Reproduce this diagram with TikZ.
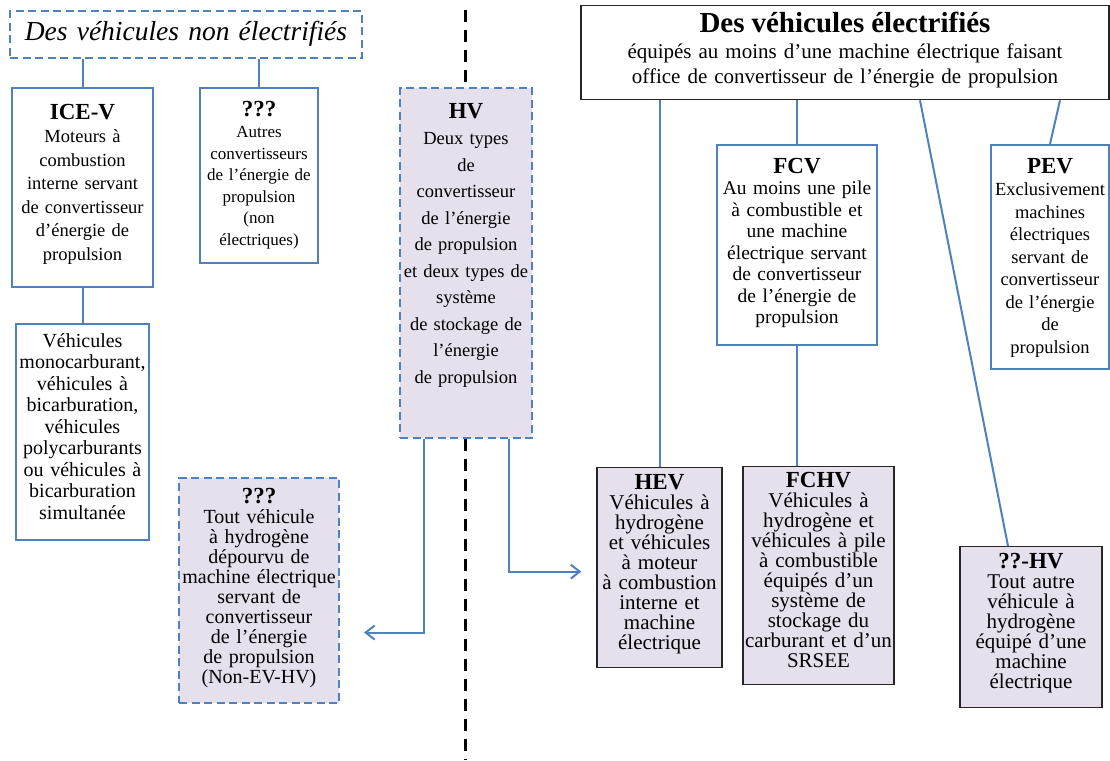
\documentclass[tikz,border=0pt]{standalone}
\usepackage{fontspec}
\setmainfont{Liberation Serif}
\usetikzlibrary{arrows.meta}

\definecolor{accblue}{HTML}{4F81BD}
\definecolor{lavender}{HTML}{E5E0EC}

\newcommand{\fs}[2]{\fontsize{#1}{#2}\selectfont}
\newcommand{\hd}[2][23]{{\fontsize{#1}{#1}\selectfont\bfseries #2}}

\begin{document}
\begin{tikzpicture}[ x=1pt, y=-1pt, >={Straight Barb[length=9pt,width=14pt]},
        box/.style={ draw=accblue, line width=2.1pt, align=center,
          anchor=north, inner xsep=2pt, inner ysep=4pt },
        dbox/.style={ box, dash pattern=on 8pt off 4.5pt },
        hbox/.style={ box, draw=black!85, line width=1.3pt },
        link/.style={ accblue, line width=2pt },
        projection/.style={ link, -> },
        separator/.style={ black, line width=3pt, dash pattern=on 12pt off 8pt } ]
  \useasboundingbox (0,0) rectangle (1110,760);

  % left side: non electrified
  \node[dbox, text width=348pt, text height=25pt, text depth=14pt,
        font=\fs{27.5}{30}\itshape] (nonel) at (186,10) {Des véhicules non électrifiés};
  \node[box, text width=137pt, text height=27pt, text depth=164pt,
        font=\fs{18.5}{23.5}] (icev) at (82.5,87)
        {\hd{ICE-V}\\Moteurs à\\combustion\\interne servant\\de convertisseur\\d’énergie de\\propulsion};
  \node[box, text width=114pt, text height=24pt, text depth=143pt,
        font=\fs{17}{21.5}] (other) at (259,87)
        {\hd{???}\\Autres\\convertisseurs\\de l’énergie de\\propulsion\\(non\\électriques)};
  \node[box, text width=129pt, text height=19pt, text depth=189pt,
        font=\fs{20}{21.5}] (mono) at (82.5,323)
        {Véhicules\\monocarburant,\\véhicules à\\bicarburation,\\véhicules\\polycarburants\\ou véhicules à\\bicarburation\\simultanée};
  \node[dbox, fill=lavender, text width=156pt, text height=21pt, text depth=196pt,
        font=\fs{20}{20}] (nonev) at (259,477)
        {\hd{???}\\Tout véhicule\\à hydrogène\\dépourvu de\\machine électrique\\servant de\\convertisseur\\de l’énergie\\de propulsion\\(Non-EV-HV)};

  % hydrogen vehicles
  \node[dbox, fill=lavender, text width=128pt, text height=26pt, text depth=316pt,
        font=\fs{18.5}{26.5}] (hv) at (466,87)
        {\hd{HV}\\Deux types\\de\\convertisseur\\de l’énergie\\de propulsion\\et deux types de\\système\\de stockage de\\l’énergie\\de propulsion};

  % right side: electrified
  \node[hbox, fill=white, text width=524pt, text height=23pt, text depth=63pt,
        font=\fs{21}{25.5}] (el) at (845,5)
        {\hd[29]{Des véhicules électrifiés}\\équipés au moins d’une machine électrique faisant\\office de convertisseur de l’énergie de propulsion};
  \node[box, text width=156pt, text height=24pt, text depth=168pt,
        font=\fs{19.5}{21.5}] (fcv) at (797,144)
        {\hd{FCV}\\Au moins une pile\\à combustible et\\une machine\\électrique servant\\de convertisseur\\de l’énergie de\\propulsion};
  \node[box, text width=114pt, text height=24pt, text depth=192pt,
        font=\fs{18.5}{22.5}] (pev) at (1050,144)
        {\hd{PEV}\\Exclusivement\\machines\\électriques\\servant de\\convertisseur\\de l’énergie\\de\\propulsion};
  \node[hbox, fill=lavender, text width=121pt, text height=18pt, text depth=174pt,
        font=\fs{21}{20}] (hev) at (659.5,467)
        {\hd{HEV}\\Véhicules à\\hydrogène\\et véhicules\\à moteur\\à combustion\\interne et\\machine\\électrique};
  \node[hbox, fill=lavender, text width=147pt, text height=17pt, text depth=193pt,
        font=\fs{21}{20}] (fchv) at (818.5,466)
        {\hd{FCHV}\\Véhicules à\\hydrogène et\\véhicules à pile\\à combustible\\équipés d’un\\système de\\stockage du\\carburant et d’un\\SRSEE};
  \node[hbox, fill=lavender, text width=138pt, text height=18pt, text depth=135pt,
        font=\fs{21}{20}] (hhv) at (1031,546)
        {\hd{??-HV}\\Tout autre\\véhicule à\\hydrogène\\équipé d’une\\machine\\électrique};

  \coordinate (septop) at (465,10);
  \coordinate (sepbot) at (465,760);

  \draw[link] (icev.north |- nonel.south) -- (icev.north);
  \draw[link] (other.north |- nonel.south) -- (other.north);
  \draw[link] (icev.south) -- (mono.north);
  \draw[link] (hev.north |- el.south) -- (hev.north);
  \draw[link] (fcv.north |- el.south) -- (fcv.north);
  \draw[link] (fcv.south) -- (fcv.south |- fchv.north);
  \draw[link] ([xshift=75pt]el.south) -- ([xshift=-23pt]hhv.north);
  \draw[link] ([xshift=215pt]el.south) -- (pev.north);
  \draw[projection] ([xshift=-42pt]hv.south) |- ([xshift=24pt,yshift=-42pt]nonev.east);
  \draw[projection] ([xshift=43pt]hv.south) |- ([xshift=-15pt,yshift=-4pt]hev.west);

  \draw[separator] (septop) -- (septop |- hv.north);
  \draw[separator] (sepbot |- hv.south) -- (sepbot);
\end{tikzpicture}
\end{document}
